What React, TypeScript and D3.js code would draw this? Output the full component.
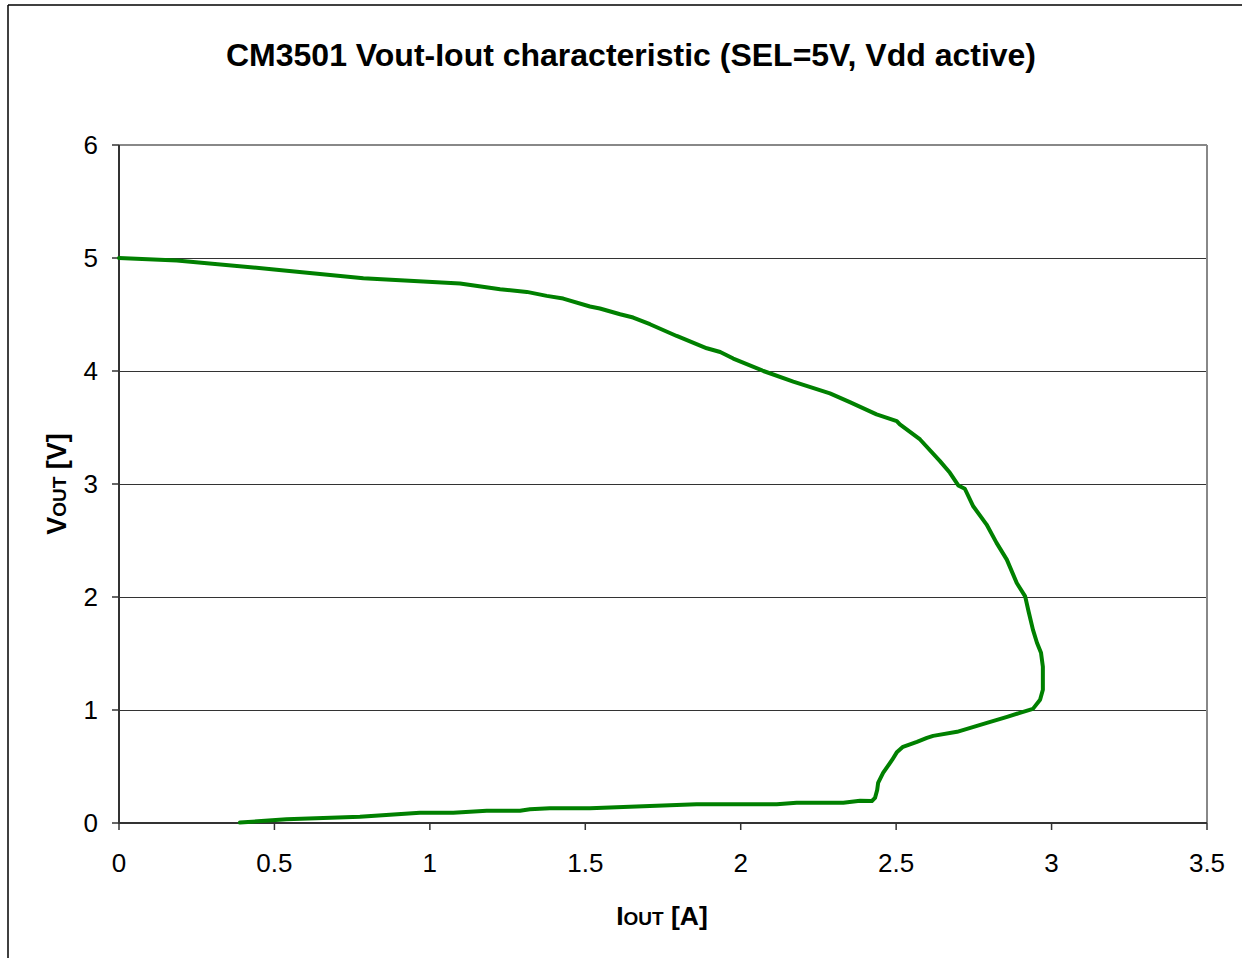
import React from "react";
import * as d3 from "d3";

const iout: number[] = [
  0, 0.186, 0.507, 0.786, 1.097, 1.226, 1.312, 1.376, 1.429, 1.515, 1.547, 1.612, 1.654, 1.708,
  1.794, 1.891, 1.934, 1.976, 2.073, 2.169, 2.287, 2.351, 2.437, 2.502, 2.512, 2.577, 2.641,
  2.673, 2.7, 2.721, 2.748, 2.791, 2.823, 2.856, 2.888, 2.915, 2.927, 2.94, 2.953, 2.966, 2.972,
  2.972, 2.963, 2.94, 2.898, 2.857, 2.792, 2.696, 2.619, 2.599, 2.567, 2.522, 2.503, 2.487,
  2.458, 2.442, 2.439, 2.432, 2.422, 2.384, 2.33, 2.18, 2.116, 1.858, 1.515, 1.386, 1.322, 1.29,
  1.183, 1.075, 0.968, 0.775, 0.539, 0.389,
];
const vout: number[] = [
  5.0, 4.977, 4.897, 4.82, 4.775, 4.724, 4.7, 4.665, 4.641, 4.571, 4.553, 4.502, 4.473, 4.414,
  4.31, 4.201, 4.168, 4.11, 4.0, 3.906, 3.802, 3.725, 3.616, 3.557, 3.527, 3.394, 3.202, 3.099,
  2.987, 2.958, 2.803, 2.641, 2.479, 2.331, 2.124, 2.006, 1.861, 1.711, 1.595, 1.507, 1.383,
  1.179, 1.09, 1.01, 0.975, 0.939, 0.886, 0.807, 0.771, 0.753, 0.718, 0.674, 0.629, 0.558, 0.443,
  0.355, 0.292, 0.222, 0.195, 0.197, 0.18, 0.18, 0.166, 0.166, 0.13, 0.13, 0.121, 0.109, 0.109,
  0.091, 0.091, 0.056, 0.033, 0.004,
];
const xTicks: number[] = [0, 0.5, 1, 1.5, 2, 2.5, 3, 3.5];
const yTicks: number[] = [0, 1, 2, 3, 4, 5, 6];
const title = "CM3501 Vout-Iout characteristic (SEL=5V, Vdd active)";

export default function App() {
  const W = 1247, H = 958;
  const L = 119, R = 1207, T = 145, B = 823;
  const x = d3.scaleLinear().domain([0, 3.5]).range([L, R]);
  const y = d3.scaleLinear().domain([0, 6]).range([B, T]);
  const pts = iout.map((v, i) => [v, vout[i]] as [number, number]);
  const line = d3.line<[number, number]>().x(d => x(d[0])).y(d => y(d[1]));
  const font = "'Liberation Sans', Arial, sans-serif";
  return (
    <svg width={W} height={H} style={{ position: "absolute", left: 0, top: 0, background: "#fff" }} fontFamily={font}>
      <line x1={8} y1={5} x2={1242} y2={5} stroke="#000" strokeWidth={1.5} />
      <line x1={8} y1={5} x2={8} y2={H} stroke="#000" strokeWidth={1.5} />
      <text x={631} y={66} textAnchor="middle" fontSize={32} fontWeight="bold" fill="#000">{title}</text>
      {yTicks.filter(t => t > 0 && t < 6).map(t => (
        <line key={"g" + t} x1={L} x2={R} y1={Math.round(y(t)) + 0.5} y2={Math.round(y(t)) + 0.5} stroke="#333" strokeWidth={1} shapeRendering="crispEdges" />
      ))}
      <line x1={L} x2={R} y1={T} y2={T} stroke="#888" strokeWidth={2} />
      <line x1={R} x2={R} y1={T} y2={B} stroke="#888" strokeWidth={2} />
      <line x1={L} x2={L} y1={T} y2={B + 1} stroke="#333" strokeWidth={2} />
      <line x1={L - 1} x2={R} y1={B} y2={B} stroke="#333" strokeWidth={2} />
      {yTicks.map(t => (
        <g key={"y" + t}>
          <line x1={L - 7} x2={L} y1={y(t)} y2={y(t)} stroke="#333" strokeWidth={1.5} />
          <text x={98} y={y(t) + 9.3} textAnchor="end" fontSize={26} fill="#000">{t}</text>
        </g>
      ))}
      {xTicks.map(t => (
        <g key={"x" + t}>
          <line x1={x(t)} x2={x(t)} y1={B} y2={B + 7} stroke="#333" strokeWidth={1.5} />
          <text x={x(t)} y={872} textAnchor="middle" fontSize={26} fill="#000">{t}</text>
        </g>
      ))}
      <path d={line(pts) || ""} fill="none" stroke="#008000" strokeWidth={4} strokeLinejoin="round" strokeLinecap="round" />
      <text x={662} y={925} textAnchor="middle" fontWeight="bold" fill="#000" fontSize={26.5}>
        I<tspan fontSize={19}>OUT</tspan> [A]
      </text>
      <text transform={`translate(66,484) rotate(-90)`} textAnchor="middle" fontWeight="bold" fill="#000" fontSize={27}>
        V<tspan fontSize={19}>OUT</tspan> [V]
      </text>
    </svg>
  );
}
